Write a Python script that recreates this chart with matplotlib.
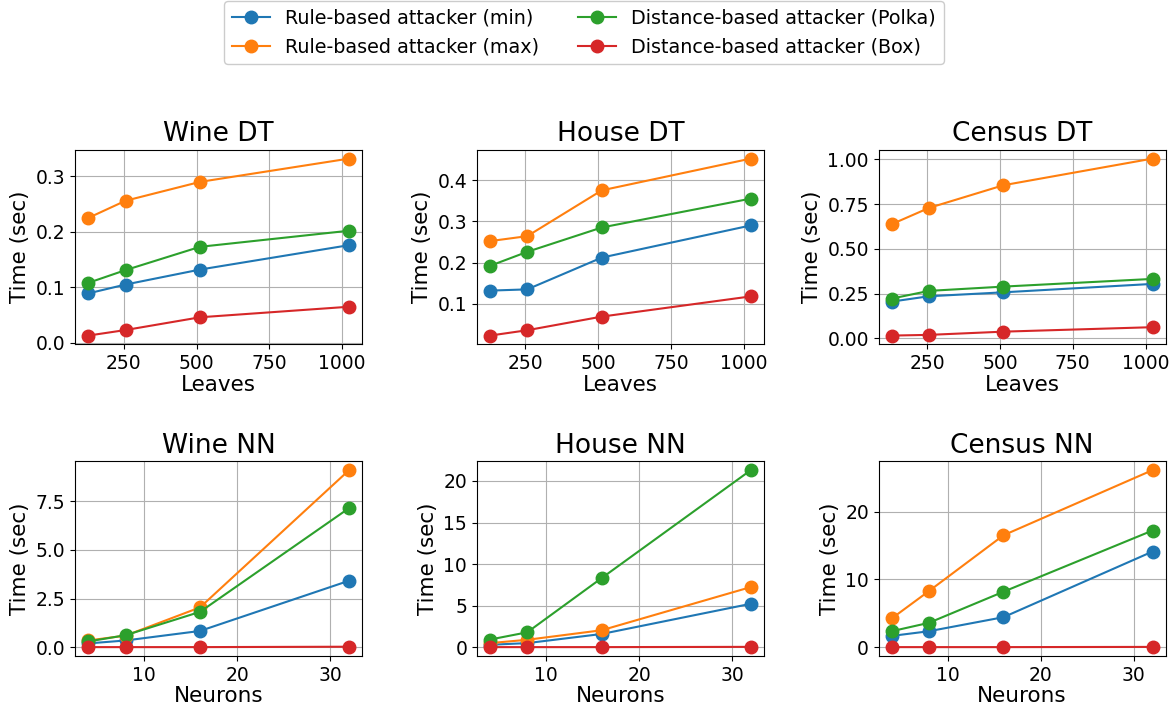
import matplotlib
matplotlib.use("Agg")
import matplotlib.pyplot as plt
from matplotlib.ticker import MultipleLocator

# === Données ===
leaves = [128, 256, 512, 1024]
neurons = [4, 8, 16, 32]

series_names = [
    "Rule-based attacker (min)",
    "Rule-based attacker (max)",
    "Distance-based attacker (Polka)",
    "Distance-based attacker (Box)",
]
colors = ["#1f77b4", "#ff7f0e", "#2ca02c", "#d62728"]

wine_dt_min = [0.089, 0.105, 0.132, 0.176]
wine_dt_max = [0.225, 0.256, 0.290, 0.332]
wine_dt_polka = [0.108, 0.131, 0.173, 0.202]
wine_dt_box = [0.013, 0.023, 0.046, 0.065]

house_dt_min = [0.132, 0.135, 0.212, 0.290]
house_dt_max = [0.252, 0.264, 0.375, 0.452]
house_dt_polka = [0.192, 0.226, 0.285, 0.355]
house_dt_box = [0.023, 0.036, 0.069, 0.118]

census_dt_min = [0.205, 0.235, 0.257, 0.304]
census_dt_max = [0.638, 0.729, 0.856, 1.005]
census_dt_polka = [0.222, 0.265, 0.289, 0.332]
census_dt_box = [0.015, 0.019, 0.037, 0.062]

wine_nn_min = [0.20, 0.35, 0.84, 3.42]
wine_nn_max = [0.35, 0.60, 2.05, 9.10]
wine_nn_polka = [0.30, 0.62, 1.82, 7.15]
wine_nn_box = [0.01, 0.01, 0.01, 0.03]

house_nn_min = [0.30, 0.50, 1.60, 5.23]
house_nn_max = [0.50, 0.90, 2.05, 7.24]
house_nn_polka = [0.93, 1.80, 8.33, 21.3]
house_nn_box = [0.02, 0.02, 0.02, 0.05]

census_nn_min = [1.67, 2.36, 4.43, 14.1]
census_nn_max = [4.24, 8.28, 16.5, 26.1]
census_nn_polka = [2.36, 3.60, 8.18, 17.2]
census_nn_box = [0.02, 0.02, 0.02, 0.05]

# (titre, x, label x, séries, pas des ticks y)
panels = [
    ("Wine DT", leaves, "Leaves", [wine_dt_min, wine_dt_max, wine_dt_polka, wine_dt_box], 0.1),
    ("House DT", leaves, "Leaves", [house_dt_min, house_dt_max, house_dt_polka, house_dt_box], 0.1),
    ("Census DT", leaves, "Leaves", [census_dt_min, census_dt_max, census_dt_polka, census_dt_box], 0.25),
    ("Wine NN", neurons, "Neurons", [wine_nn_min, wine_nn_max, wine_nn_polka, wine_nn_box], 2.5),
    ("House NN", neurons, "Neurons", [house_nn_min, house_nn_max, house_nn_polka, house_nn_box], 5),
    ("Census NN", neurons, "Neurons", [census_nn_min, census_nn_max, census_nn_polka, census_nn_box], 10),
]

# === Figure ===
fig, axes = plt.subplots(2, 3, figsize=(11.75, 7.13), dpi=100)
fig.subplots_adjust(left=0.064, right=0.992, top=0.790, bottom=0.080,
                    wspace=0.40, hspace=0.60)

for ax, (title, x, xlabel, ys, ystep) in zip(axes.flat, panels):
    for y, name, c in zip(ys, series_names, colors):
        ax.plot(x, y, "-o", color=c, markersize=9, linewidth=1.5, label=name)
    ax.set_title(title, fontsize=19)
    ax.set_xlabel(xlabel, fontsize=15.5, labelpad=1)
    ax.set_ylabel("Time (sec)", fontsize=15.5)
    ax.tick_params(labelsize=13.5)
    ax.xaxis.set_major_locator(MultipleLocator(250 if xlabel == "Leaves" else 10))
    ax.yaxis.set_major_locator(MultipleLocator(ystep))
    ax.grid(True, color="#b0b0b0", linewidth=0.8)

handles, labels = axes[0, 0].get_legend_handles_labels()
fig.legend(handles, labels, loc="upper center", ncol=2, fontsize=13.8,
           bbox_to_anchor=(0.497, 1.012), framealpha=1, edgecolor="#cccccc")

fig.savefig("out.png", dpi=100)
